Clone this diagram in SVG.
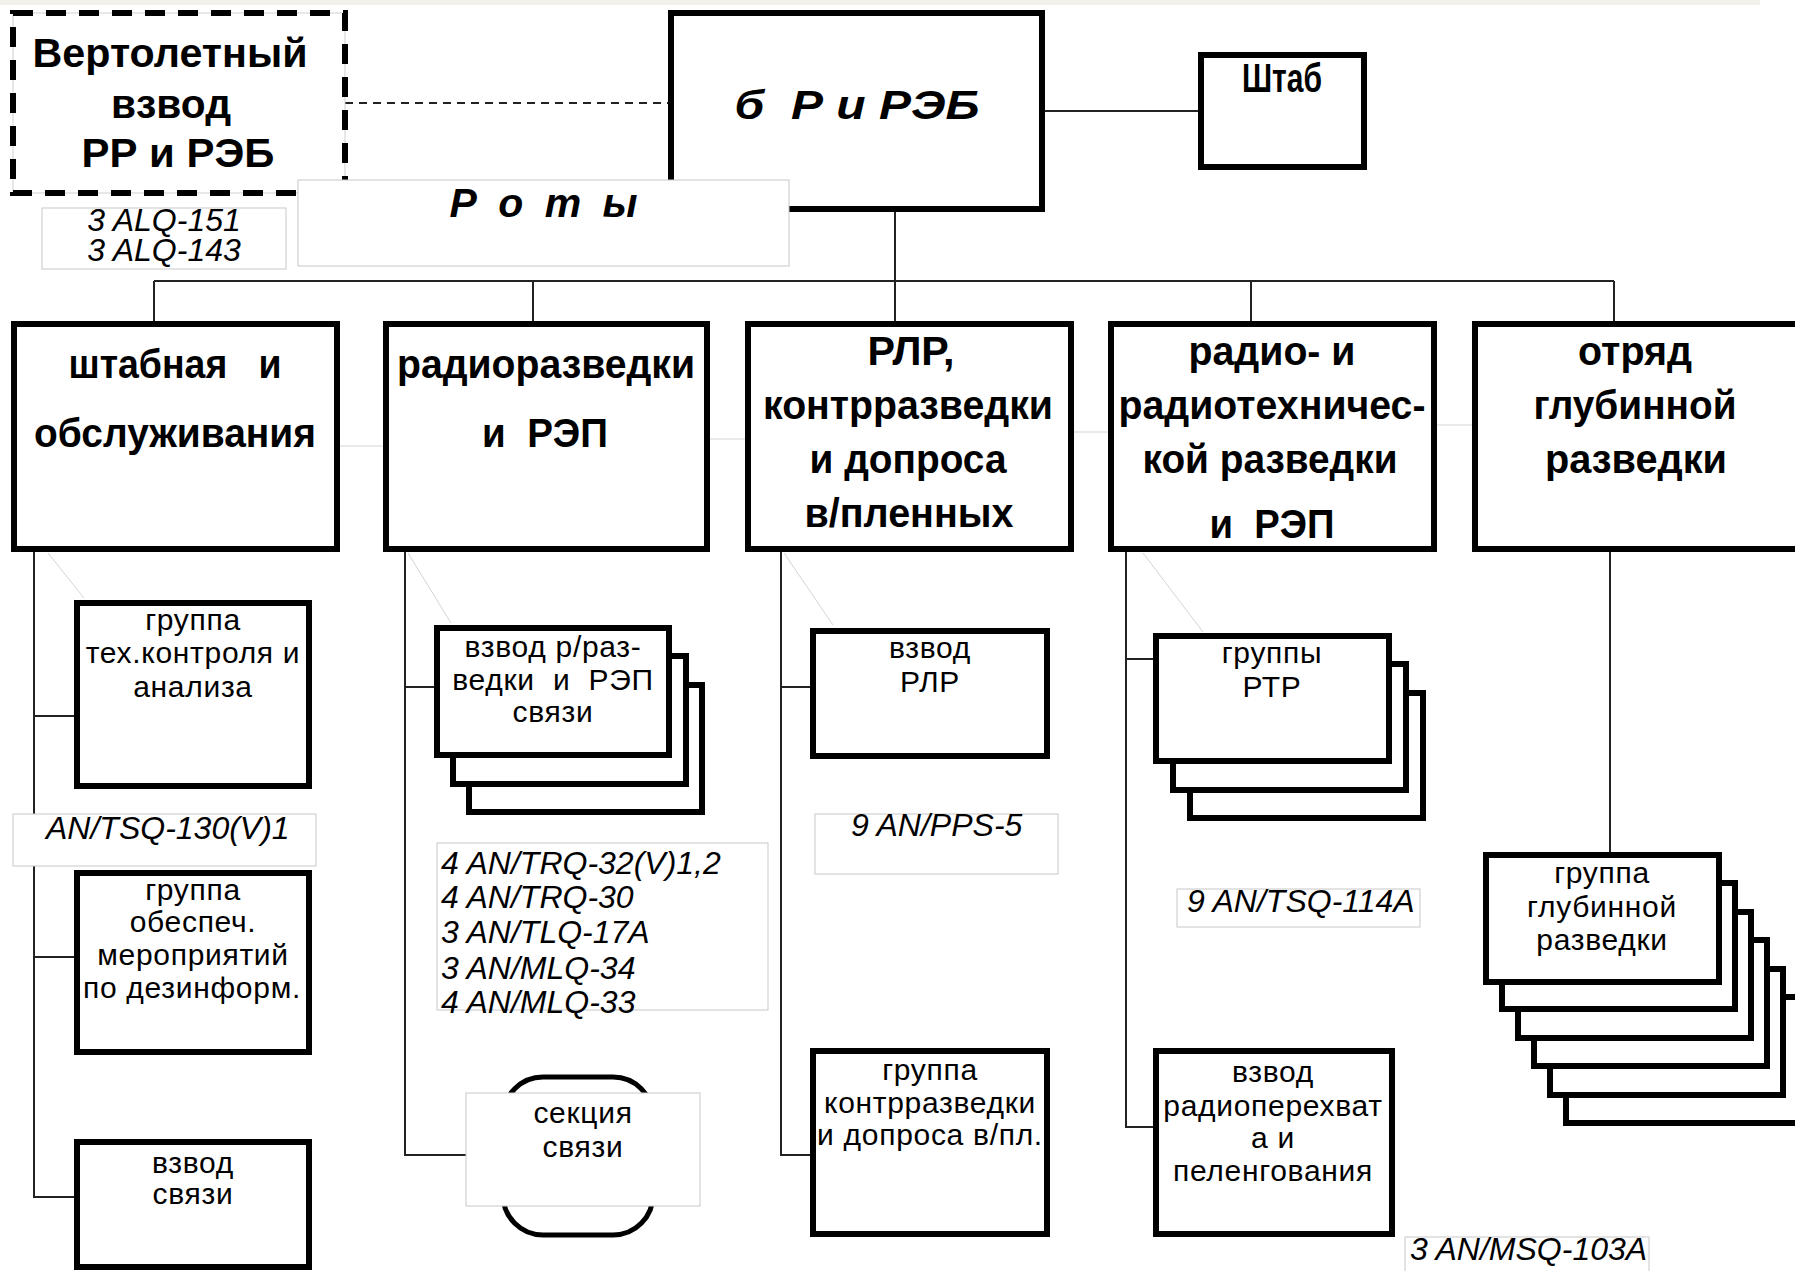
<svg xmlns="http://www.w3.org/2000/svg" width="1795" height="1271" viewBox="0 0 1795 1271">
<style>
.box{fill:#fff;stroke:#000;stroke-width:6}
.lbl{fill:#fff;stroke:#c8c8c8;stroke-width:1}
.ln{stroke:#222;stroke-width:2;fill:none}
.faint{stroke:#d4d4d4;stroke-width:1;fill:none}
.hb{font-family:"Liberation Sans",Arial,sans-serif;font-weight:bold;font-size:41px;text-anchor:middle;fill:#000}
.rg{font-family:"Liberation Sans",Arial,sans-serif;font-size:30px;letter-spacing:0.7px;text-anchor:middle;fill:#000}
.it{font-family:"Liberation Sans",Arial,sans-serif;font-style:italic;font-size:32px;fill:#000}
</style>
<rect x="0" y="0" width="1795" height="1271" fill="#fff"/>
<rect x="0" y="0" width="1760" height="5" fill="#f3f1ec"/>

<g id="connectors">
  <line class="ln" x1="345" y1="103" x2="669" y2="103" stroke-dasharray="8 6"/>
  <line class="ln" x1="1045" y1="111" x2="1199" y2="111"/>
  <line class="ln" x1="895" y1="212" x2="895" y2="321"/>
  <line class="ln" x1="154" y1="281" x2="1614" y2="281"/>
  <line class="ln" x1="154" y1="281" x2="154" y2="321"/>
  <line class="ln" x1="533" y1="281" x2="533" y2="321"/>
  <line class="ln" x1="1251" y1="281" x2="1251" y2="321"/>
  <line class="ln" x1="1614" y1="281" x2="1614" y2="321"/>
  <path class="ln" d="M34 552 V1197 H74 M34 716 H74 M34 957 H74"/>
  <path class="ln" d="M405 552 V1155 H466 M405 687 H434"/>
  <path class="ln" d="M781 552 V1155 H810 M781 687 H810"/>
  <path class="ln" d="M1126 552 V1127 H1153 M1126 659 H1153"/>
  <line class="ln" x1="1610" y1="552" x2="1610" y2="852"/>
  <g class="faint">
    <line x1="340" y1="446" x2="383" y2="446"/>
    <line x1="710" y1="439" x2="745" y2="439"/>
    <line x1="1074" y1="432" x2="1108" y2="432"/>
    <line x1="1437" y1="425" x2="1472" y2="425"/>
    <line x1="48" y1="553" x2="84" y2="598"/>
    <line x1="408" y1="553" x2="451" y2="623"/>
    <line x1="784" y1="553" x2="833" y2="625"/>
    <line x1="1143" y1="553" x2="1203" y2="632"/>
  </g>
</g>

<g id="heli">
  <rect x="13" y="13" width="332" height="180" fill="#fff" stroke="#cfcfcf" stroke-width="1"/>
  <rect x="13" y="13" width="332" height="180" fill="none" stroke="#000" stroke-width="6" stroke-dasharray="20 13"/>
  <text class="hb" x="170" y="67" font-size="42" textLength="275" lengthAdjust="spacingAndGlyphs">Вертолетный</text>
  <text class="hb" x="171" y="118" font-size="42" textLength="120" lengthAdjust="spacingAndGlyphs">взвод</text>
  <text class="hb" x="178" y="167" font-size="42" textLength="193" lengthAdjust="spacingAndGlyphs">РР и РЭБ</text>
</g>
<g id="heli-eq">
  <rect class="lbl" x="42" y="208" width="244" height="61"/>
  <text class="it" text-anchor="middle" font-size="26"><tspan x="164" y="231">3 ALQ-151</tspan><tspan x="164" y="261">3 ALQ-143</tspan></text>
</g>

<g id="battalion">
  <rect class="box" x="671" y="13" width="371" height="196"/>
  <text class="hb" x="857" y="119" font-size="54" font-style="italic" xml:space="preserve" textLength="245" lengthAdjust="spacingAndGlyphs">б  Р и РЭБ</text>
</g>
<g id="roty">
  <rect class="lbl" x="298" y="180" width="491" height="86"/>
  <text class="hb" x="546" y="217" font-size="31" font-style="italic" letter-spacing="5">Р о т ы</text>
</g>
<g id="shtab">
  <rect class="box" x="1201" y="55" width="163" height="112"/>
  <text class="hb" x="1282" y="92" font-size="27" textLength="80" lengthAdjust="spacingAndGlyphs">Штаб</text>
</g>

<g id="company1">
  <rect class="box" x="14" y="324" width="323" height="225"/>
  <text class="hb" x="175" y="378" xml:space="preserve" textLength="213" lengthAdjust="spacingAndGlyphs">штабная   и</text>
  <text class="hb" x="175" y="447" textLength="282" lengthAdjust="spacingAndGlyphs">обслуживания</text>
</g>
<g id="company2">
  <rect class="box" x="386" y="324" width="321" height="225"/>
  <text class="hb" x="546" y="378" textLength="298" lengthAdjust="spacingAndGlyphs">радиоразведки</text>
  <text class="hb" x="545" y="447" xml:space="preserve" textLength="126" lengthAdjust="spacingAndGlyphs">и  РЭП</text>
</g>
<g id="company3">
  <rect class="box" x="748" y="324" width="323" height="225"/>
  <text class="hb" x="911" y="365" textLength="87" lengthAdjust="spacingAndGlyphs">РЛР,</text>
  <text class="hb" x="908" y="419" textLength="290" lengthAdjust="spacingAndGlyphs">контрразведки</text>
  <text class="hb" x="908" y="473" textLength="197" lengthAdjust="spacingAndGlyphs">и допроса</text>
  <text class="hb" x="909" y="527" textLength="209" lengthAdjust="spacingAndGlyphs">в/пленных</text>
</g>
<g id="company4">
  <rect class="box" x="1111" y="324" width="323" height="225"/>
  <text class="hb" x="1272" y="365" textLength="167" lengthAdjust="spacingAndGlyphs">радио- и</text>
  <text class="hb" x="1272" y="419" textLength="307" lengthAdjust="spacingAndGlyphs">радиотехничес-</text>
  <text class="hb" x="1270" y="473" textLength="255" lengthAdjust="spacingAndGlyphs">кой разведки</text>
  <text class="hb" x="1272" y="538" xml:space="preserve" textLength="125" lengthAdjust="spacingAndGlyphs">и  РЭП</text>
</g>
<g id="company5">
  <rect class="box" x="1475" y="324" width="330" height="225"/>
  <text class="hb" x="1635" y="365" textLength="114" lengthAdjust="spacingAndGlyphs">отряд</text>
  <text class="hb" x="1635" y="419" textLength="203" lengthAdjust="spacingAndGlyphs">глубинной</text>
  <text class="hb" x="1636" y="473" textLength="182" lengthAdjust="spacingAndGlyphs">разведки</text>
</g>

<g id="tech-control">
  <rect class="box" x="77" y="603" width="232" height="183"/>
  <text class="rg" x="193" y="630">группа</text>
  <text class="rg" x="193" y="663">тех.контроля и</text>
  <text class="rg" x="193" y="697">анализа</text>
</g>
<g id="tech-control-eq">
  <rect class="lbl" x="13" y="814" width="303" height="52"/>
  <text class="it" x="46" y="839">AN/TSQ-130(V)1</text>
</g>
<g id="disinfo">
  <rect class="box" x="77" y="873" width="232" height="179"/>
  <text class="rg" x="193" y="900">группа</text>
  <text class="rg" x="193" y="932">обеспеч.</text>
  <text class="rg" x="193" y="965">мероприятий</text>
  <text class="rg" x="192" y="998">по дезинформ.</text>
</g>
<g id="signal-platoon">
  <rect class="box" x="77" y="1142" width="232" height="125"/>
  <text class="rg" x="193" y="1173">взвод</text>
  <text class="rg" x="193" y="1204">связи</text>
</g>

<g id="rr-platoon">
  <rect class="box" x="469" y="685" width="233" height="127"/>
  <rect class="box" x="453" y="656" width="233" height="128"/>
  <rect class="box" x="437" y="628" width="232" height="127"/>
  <text class="rg" x="553" y="657">взвод р/раз-</text>
  <text class="rg" x="553" y="690" xml:space="preserve">ведки  и  РЭП</text>
  <text class="rg" x="553" y="722">связи</text>
</g>
<g id="rr-eq">
  <rect class="lbl" x="437" y="843" width="331" height="167"/>
  <text class="it" x="441" y="874">4 AN/TRQ-32(V)1,2</text>
  <text class="it" x="441" y="908">4 AN/TRQ-30</text>
  <text class="it" x="441" y="943">3 AN/TLQ-17A</text>
  <text class="it" x="441" y="979">3 AN/MLQ-34</text>
  <text class="it" x="441" y="1013">4 AN/MLQ-33</text>
</g>
<g id="signal-section">
  <rect x="503" y="1077" width="150" height="158" rx="40" ry="40" fill="#fff" stroke="#000" stroke-width="5"/>
  <rect class="lbl" x="466" y="1093" width="234" height="113"/>
  <text class="rg" x="583" y="1123">секция</text>
  <text class="rg" x="583" y="1157">связи</text>
</g>

<g id="rlr-platoon">
  <rect class="box" x="813" y="631" width="234" height="125"/>
  <text class="rg" x="930" y="658">взвод</text>
  <text class="rg" x="930" y="692">РЛР</text>
</g>
<g id="rlr-eq">
  <rect class="lbl" x="815" y="814" width="243" height="60"/>
  <text class="it" x="851" y="836">9 AN/PPS-5</text>
</g>
<g id="ci-group">
  <rect class="box" x="813" y="1051" width="234" height="183"/>
  <text class="rg" x="930" y="1080">группа</text>
  <text class="rg" x="930" y="1113">контрразведки</text>
  <text class="rg" x="930" y="1145">и допроса в/пл.</text>
</g>

<g id="rtr-groups">
  <rect class="box" x="1190" y="693" width="233" height="125"/>
  <rect class="box" x="1173" y="664" width="233" height="126"/>
  <rect class="box" x="1156" y="636" width="233" height="125"/>
  <text class="rg" x="1272" y="663">группы</text>
  <text class="rg" x="1272" y="697">РТР</text>
</g>
<g id="rtr-eq">
  <rect class="lbl" x="1177" y="889" width="243" height="38"/>
  <text class="it" x="1187" y="912">9 AN/TSQ-114A</text>
</g>
<g id="intercept-platoon">
  <rect class="box" x="1156" y="1051" width="236" height="183"/>
  <text class="rg" x="1273" y="1082">взвод</text>
  <text class="rg" x="1273" y="1116">радиоперехват</text>
  <text class="rg" x="1273" y="1148">а и</text>
  <text class="rg" x="1273" y="1181">пеленгования</text>
</g>
<g id="intercept-eq">
  <rect class="lbl" x="1405" y="1237" width="244" height="40"/>
  <text class="it" x="1410" y="1260">3 AN/MSQ-103A</text>
</g>

<g id="deep-groups">
  <rect class="box" x="1566" y="997" width="233" height="126"/>
  <rect class="box" x="1550" y="969" width="233" height="126"/>
  <rect class="box" x="1534" y="940" width="233" height="126"/>
  <rect class="box" x="1518" y="912" width="233" height="126"/>
  <rect class="box" x="1502" y="883" width="233" height="126"/>
  <rect class="box" x="1486" y="855" width="233" height="127"/>
  <text class="rg" x="1602" y="883">группа</text>
  <text class="rg" x="1602" y="917">глубинной</text>
  <text class="rg" x="1602" y="950">разведки</text>
</g>
</svg>
